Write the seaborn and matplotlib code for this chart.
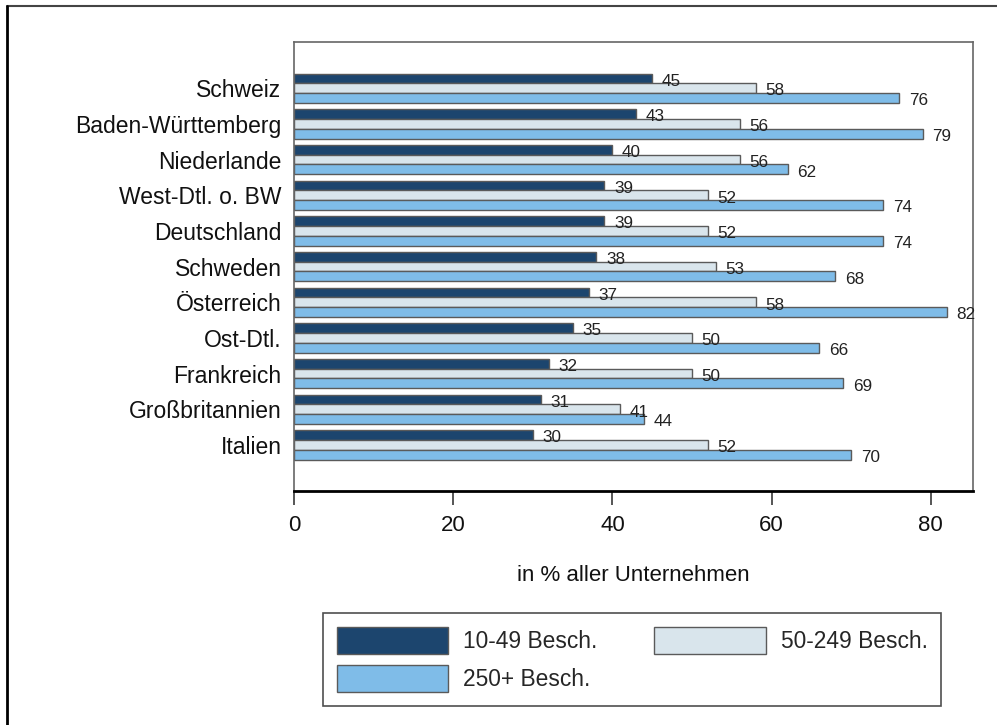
import matplotlib.pyplot as plt
import pandas as pd
import seaborn as sns

from matplotlib.lines import Line2D

## Data
countries = ['Schweiz', 'Baden-Württemberg', 'Niederlande', 'West-Dtl. o. BW', 'Deutschland',
             'Schweden', 'Österreich', 'Ost-Dtl.', 'Frankreich', 'Großbritannien', 'Italien']
small = [45, 43, 40, 39, 39, 38, 37, 35, 32, 31, 30]
medium = [58, 56, 56, 52, 52, 53, 58, 50, 50, 41, 52]
large = [76, 79, 62, 74, 74, 68, 82, 66, 69, 44, 70]
groups = ['10-49 Besch.', '50-249 Besch.', '250+ Besch.']
colors = ['#1c456e', '#d9e5ec', '#7fbce8']

df = pd.DataFrame({
    'Land': countries * 3,
    'Anteil': small + medium + large,
    'Gruppe': [g for g in groups for _ in countries],
})

sns.set_theme(style='white')
plt.rcParams['font.family'] = ['Liberation Sans', 'DejaVu Sans']

fig = plt.figure(figsize=(9.97, 7.25), dpi=100)
ax = fig.add_axes([0.2949, 0.3228, 0.681, 0.619])

sns.barplot(data=df, y='Land', x='Anteil', hue='Gruppe', hue_order=groups, order=countries,
            orient='h', palette=colors, saturation=1, width=0.82,
            edgecolor='#5a5a5a', linewidth=1, ax=ax)

# value labels, nudged a little below the bar centre like the original
for c in ax.containers:
    for ann in ax.bar_label(c, padding=7, fontsize=12.3, color='#222222'):
        ann.xyann = (7, -2)

ax.set_xlim(0, 85.3)
ax.set_ylim(10 + 1.29, -1.29)
ax.set_xticks([0, 20, 40, 60, 80])
ax.set_ylabel('')
ax.set_xlabel('in % aller Unternehmen', fontsize=16, labelpad=21, color='#111111')
ax.tick_params(axis='x', bottom=True, length=10, width=1.4, color='#555555',
               labelsize=16, pad=7, labelcolor='#111111')
ax.tick_params(axis='y', left=False, length=0, labelsize=16.5, pad=9, labelcolor='#111111')

for s in ['top', 'right', 'left']:
    ax.spines[s].set_color('#666666')
    ax.spines[s].set_linewidth(1.2)
ax.spines['bottom'].set_color('black')
ax.spines['bottom'].set_linewidth(2)

# legend below the plot, reordered so that rows read left to right
handles, labels = ax.get_legend_handles_labels()
ax.get_legend().remove()
order = [0, 2, 1]
leg = fig.legend([handles[i] for i in order], [labels[i] for i in order],
                 loc='lower left', bbox_to_anchor=(0.324, 0.0262, 0.62, 0.1324),
                 mode='expand', ncol=2, fontsize=16.4, frameon=True, fancybox=False,
                 handlelength=4.9, handleheight=1.45, handletextpad=0.65,
                 labelspacing=0.5, borderpad=0.6, borderaxespad=0)
leg.get_frame().set_edgecolor('#222222')
leg.get_frame().set_linewidth(1.2)

# outer frame (cut off at right and bottom)
fig.add_artist(Line2D([7 / 997, 1.0], [1 - 6 / 725, 1 - 6 / 725], transform=fig.transFigure,
                      color='#444444', lw=1.5))
fig.add_artist(Line2D([7 / 997, 7 / 997], [0, 1 - 6 / 725], transform=fig.transFigure,
                      color='black', lw=2))

fig.savefig('out.png', dpi=100)
